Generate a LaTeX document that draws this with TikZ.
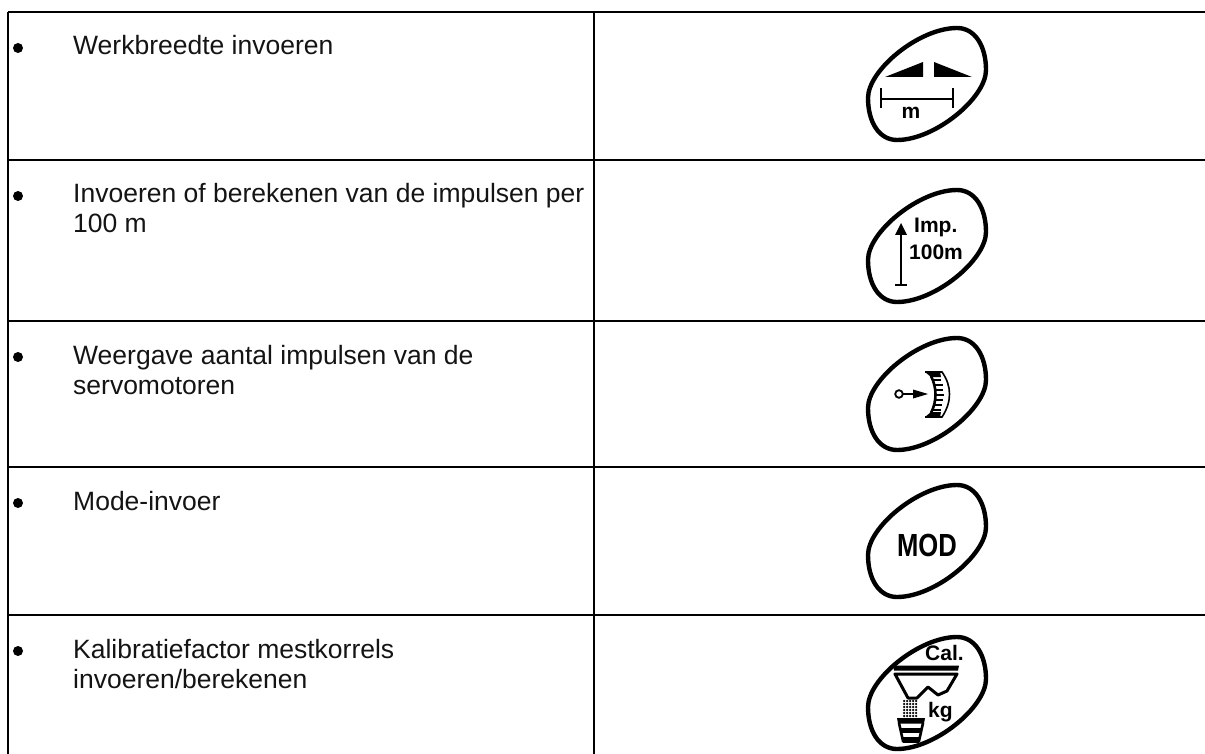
\documentclass[tikz,border=0pt]{standalone}
\usepackage{fontspec}
\setmainfont{Liberation Sans}
\tikzset{
  rule/.style={line width=2pt,black},
  bul/.style={circle,fill=black,inner sep=0pt,minimum size=10pt},
  txt/.style={anchor=base west,inner sep=0pt,font=\fontsize{26.5}{30}\selectfont,text=black!92},
  oval/.style={line width=4.4pt,black},
  keytxt/.style={inner sep=0pt,font=\bfseries\fontsize{21}{24}\selectfont},
}
\newcommand{\keyoval}[1]{%
  \draw[oval,shift={#1}] (-59,14) .. controls (-59,-14) and (-8,-56) .. (30,-56)
     .. controls (48,-56) and (59,-38) .. (59,-14)
     .. controls (59,14) and (8,56) .. (-30,56)
     .. controls (-48,56) and (-59,38) .. (-59,14) -- cycle;}
\begin{document}
\begin{tikzpicture}[x=1pt,y=-1pt]
\useasboundingbox (0,0) rectangle (1205,754);
\coordinate (tl) at (8,12); \coordinate (tr) at (1205,12);
\coordinate (bl) at (8,754); \coordinate (tm) at (594,12); \coordinate (bm) at (594,754);
\draw[rule] (tl) -- (tr);
\draw[rule] (tl) -- (bl);
\draw[rule] (tm) -- (bm);
\foreach \n/\y in {a/160,b/321,c/467,d/615}{
  \coordinate (\n l) at (8,\y); \coordinate (\n r) at (1205,\y);
  \draw[rule] (\n l) -- (\n r);
}
\foreach \n/\y in {1/48,2/196,3/357,4/503,5/651}{
  \node[bul] (b\n) at (18,\y) {};
}
\node[txt] (t1) at (73,55) {Werkbreedte invoeren};
\node[txt] (t2a) at (73,203) {Invoeren of berekenen van de impulsen per};
\node[txt] (t2b) at (73,233) {100 m};
\node[txt] (t3a) at (73,364) {Weergave aantal impulsen van de};
\node[txt] (t3b) at (73,394) {servomotoren};
\node[txt] (t4) at (73,510) {Mode-invoer};
\node[txt] (t5a) at (73,658) {Kalibratiefactor mestkorrels};
\node[txt] (t5b) at (73,688) {invoeren/berekenen};
% icon 1
\keyoval{(927,84)}
\fill (885,77) -- (923,62) -- (923,77) -- cycle;
\fill (934,62) -- (972,77) -- (934,77) -- cycle;
\coordinate (ml) at (881,99); \coordinate (mr) at (953,99);
\draw[line width=1.8pt] (ml) -- (mr);
\draw[line width=1.8pt] (881,88) -- (881,108);
\draw[line width=1.8pt] (953,88) -- (953,108);
\node[keytxt,anchor=base] (m) at (911,119) {m};
% icon 2
\keyoval{(927,246)}
\draw[line width=1.8pt] (901,232) -- (901,285);
\draw[line width=1.8pt] (895,285) -- (907,285);
\fill (901,223) -- (907,235) -- (895,235) -- cycle;
\node[keytxt,anchor=base west] (imp) at (914,233) {Imp.};
\node[keytxt,anchor=base west] (hm) at (909,260) {100m};
% icon 3
\keyoval{(927,394)}
\draw[line width=1.8pt] (899,394) circle (3.8);
\draw[line width=1.6pt] (903,394) -- (915,394);
\fill (928,394) -- (913,389.5) -- (913,398.5) -- cycle;
\draw[line width=1.6pt] (925,372) -- (942,372) .. controls (952,386) and (952,402) .. (942,417) -- (925,417);
\fill (925,372) -- (940,372) -- (941,377) -- (931,377) -- cycle;
\fill (925,417) -- (940,417) -- (941,412) -- (931,412) -- cycle;
\draw[line width=2.6pt] (931,376) .. controls (937,388) and (937,401) .. (931,413);
\foreach \yy/\xa in {380/933,385/934.5,390/935.3,395/935.5,400/935,405/933.8,410/932.5}{\draw[line width=1.5pt] (\xa,\yy) -- (\xa+8,\yy);}
% icon 4
\keyoval{(927,541)}
\node[inner sep=0pt,font=\bfseries\fontsize{32}{34}\selectfont,xscale=.8,anchor=base] (mod) at (927,556) {MOD};
% icon 5
\keyoval{(927,693)}
\node[keytxt,anchor=base west] (cal) at (925,660) {Cal.};
\node[keytxt,anchor=base west] (kg) at (928,717) {kg};
\fill (893,665.5) -- (959,665.5) -- (958,670.5) -- (894,670.5) -- cycle;
\draw[line width=3pt,line join=round] (895,674) -- (957,674) -- (947,691) -- (938,695) -- (928,687) -- (917,698) -- (908,698) -- cycle;
\foreach \yy in {701,704,707,710,713,716}{\foreach \xx in {904,907,910,913,916}{\fill (\xx,\yy) circle (1.25);}}
\fill (897,718) -- (925,718) -- (924,723.5) -- (898,723.5) -- cycle;
\draw[line width=2.6pt] (899,723) -- (903,741) -- (919,741) -- (923,723);
\fill (900,728) rectangle (922,732.5);
\fill (903,737) rectangle (919,742.5);
\end{tikzpicture}
\end{document}
